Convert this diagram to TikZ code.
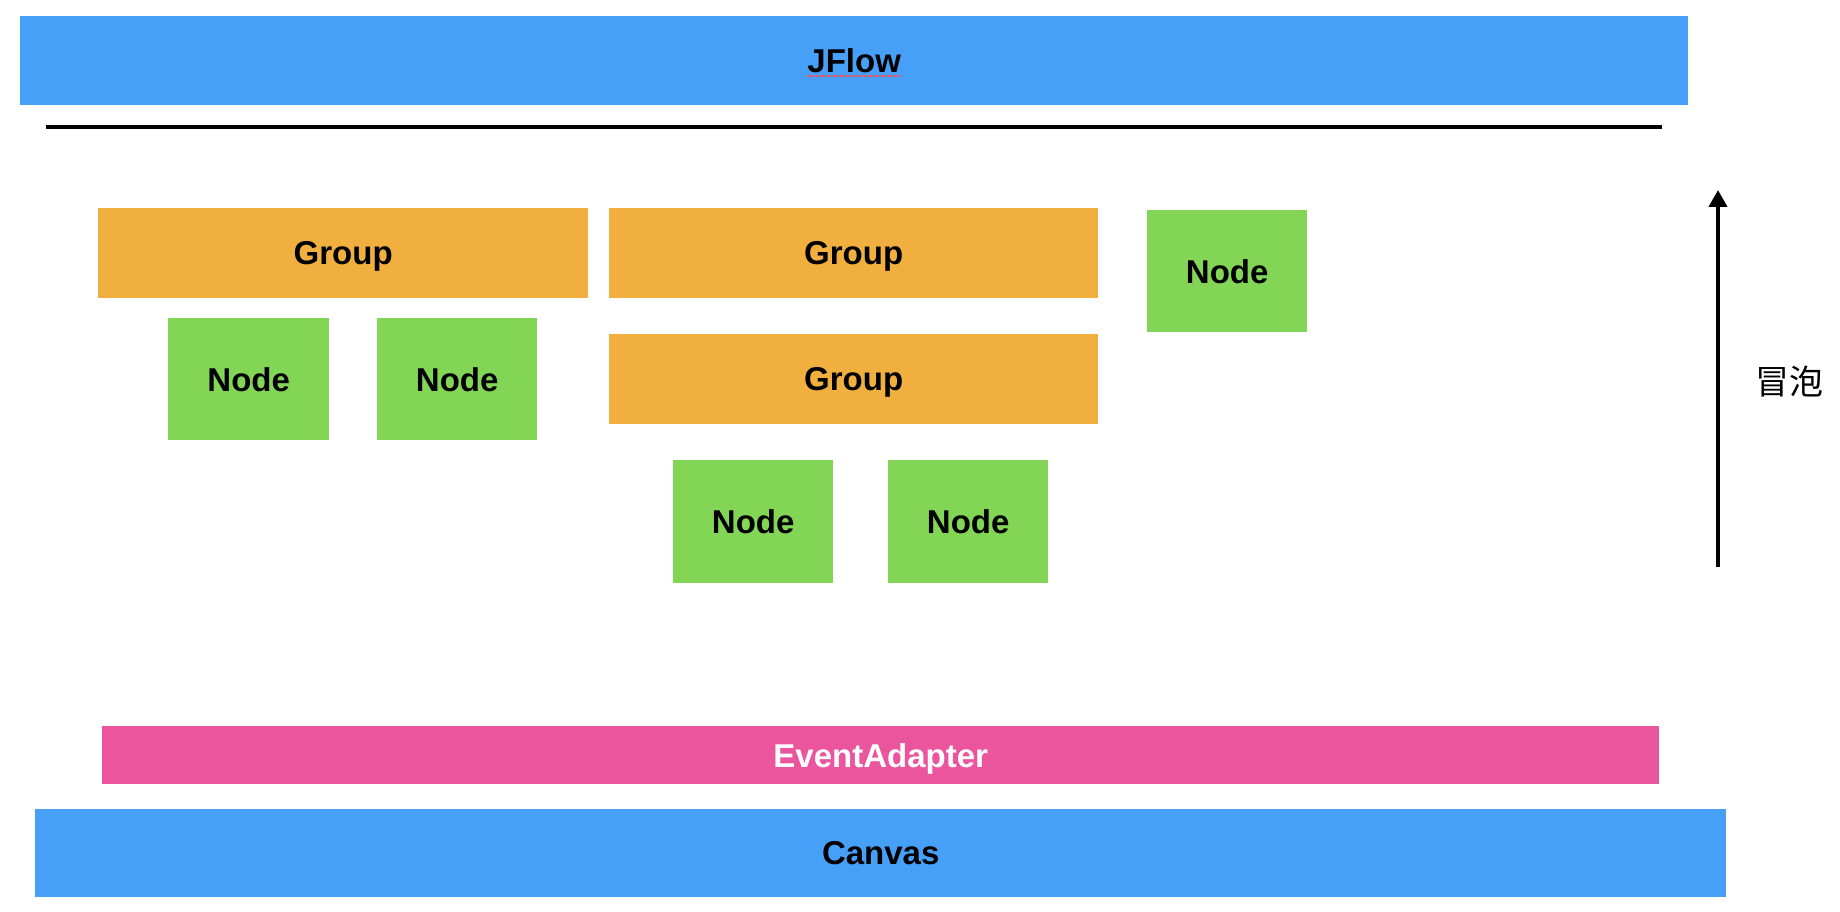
\documentclass[tikz,border=0pt]{standalone}
\usepackage{xcolor}
\usepackage{tikz}
\usepackage{fontspec}
\usetikzlibrary{arrows.meta}
\setmainfont{Liberation Sans}
\newfontfamily\cjkfont{Noto Sans CJK SC}
\definecolor{flowblue}{RGB}{71,160,248}
\definecolor{grouporange}{RGB}{241,175,64}
\definecolor{nodegreen}{RGB}{131,213,85}
\definecolor{adapterpink}{RGB}{235,85,158}

\begin{document}
\begin{tikzpicture}[
    x=1pt, y=-1pt,
    every node/.style={font=\fontsize{33}{40}\selectfont\bfseries, inner sep=0pt, text depth=0pt, anchor=north west},
    layer/.style={fill=flowblue, minimum height=89pt},
    groupbox/.style={fill=grouporange, minimum width=489pt, minimum height=90pt},
    nodebox/.style={fill=nodegreen, minimum width=161pt, minimum height=123pt}
]
\useasboundingbox (0,0) rectangle (1840,912);

% top and bottom layers
\node[layer, minimum width=1668pt] (jflow) at (20,16) {JFlow};
\draw[red!70, densely dotted, line width=2pt] ([xshift=-47pt,yshift=-15pt]jflow.center) -- ([xshift=47pt,yshift=-15pt]jflow.center);
\coordinate (lineleft) at (46,127);
\coordinate (lineright) at (1662,127);
\draw[line width=4pt] (lineleft) -- (lineright);

% groups and nodes
\node[groupbox, minimum width=490pt] (groupa) at (98,208) {Group};
\node[nodebox, minimum height=122pt] (nodea) at (168,318) {Node};
\node[nodebox, minimum width=160pt, minimum height=122pt] (nodeb) at (377,318) {Node};
\node[groupbox] (groupb) at (609,208) {Group};
\node[groupbox] (groupc) at (609,334) {Group};
\node[nodebox, minimum width=160pt] (nodec) at (673,460) {Node};
\node[nodebox, minimum width=160pt] (noded) at (888,460) {Node};
\node[nodebox, minimum width=160pt, minimum height=122pt] (nodee) at (1147,210) {Node};

% adapter and canvas
\node[fill=adapterpink, text=white, minimum width=1557pt, minimum height=58pt] (adapter) at (102,726) {EventAdapter};
\node[layer, minimum width=1691pt, minimum height=88pt] (canvas) at (35,809) {Canvas};

% bubbling
\coordinate (bubblestart) at (1718,567);
\coordinate (bubbleend) at (1718,190);
\draw[line width=4pt, -{Triangle[length=17pt,width=18pt]}] (bubblestart) -- (bubbleend);
\node[anchor=center, font=\fontsize{34}{40}\cjkfont] (bubble) at (1789,380) {冒泡};
\end{tikzpicture}
\end{document}
